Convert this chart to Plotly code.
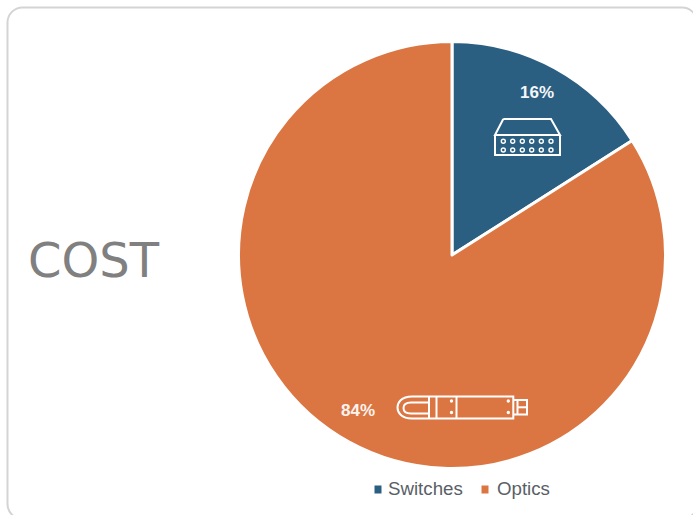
import plotly.graph_objects as go

W, H = 693, 515

categories = ["Switches", "Optics"]
values = [16, 84]
colors = ["#2b5f82", "#db7642"]
title_text = "COST"


def fx(x):
    return x / W


def fy(y):
    return 1 - y / H


def P(*pts):
    """Polyline through pixel points, as an SVG path in paper units."""
    return "M" + " L".join(f"{fx(x):.5f},{fy(y):.5f}" for x, y in pts)


def rounded_box(x0, y0, x1, y1, r):
    k = r * 0.45
    c = lambda x, y: f"{fx(x):.5f},{fy(y):.5f}"
    return (
        f"M{c(x0 + r, y0)} L{c(x1 - r, y0)} C{c(x1 - k, y0)} {c(x1, y0 + k)} {c(x1, y0 + r)} "
        f"L{c(x1, y1 - r)} C{c(x1, y1 - k)} {c(x1 - k, y1)} {c(x1 - r, y1)} "
        f"L{c(x0 + r, y1)} C{c(x0 + k, y1)} {c(x0, y1 - k)} {c(x0, y1 - r)} "
        f"L{c(x0, y0 + r)} C{c(x0, y0 + k)} {c(x0 + k, y0)} {c(x0 + r, y0)} Z"
    )


def stroke(path, width=2, color="white"):
    return dict(type="path", xref="paper", yref="paper", path=path,
                line=dict(color=color, width=width), layer="above")


def ring(cx, cy, r, width=1.4):
    return dict(type="circle", xref="paper", yref="paper",
                x0=fx(cx - r), x1=fx(cx + r), y0=fy(cy + r), y1=fy(cy - r),
                line=dict(color="white", width=width), layer="above")


def dot(cx, cy, r=1.7):
    return dict(type="circle", xref="paper", yref="paper",
                x0=fx(cx - r), x1=fx(cx + r), y0=fy(cy + r), y1=fy(cy - r),
                fillcolor="white", line=dict(width=0), layer="above")


def square(x0, y0, x1, y1, color):
    return dict(type="rect", xref="paper", yref="paper",
                x0=fx(x0), x1=fx(x1), y0=fy(y1), y1=fy(y0),
                fillcolor=color, line=dict(width=0), layer="above")


shapes = [
    # card outline
    dict(type="path", xref="paper", yref="paper",
         path=rounded_box(7.5, 7.5, 697, 519, 15),
         line=dict(color="#d4d4d4", width=2), layer="below"),
    # switch chassis
    stroke(P((503.3, 119), (551, 119), (560, 135), (495, 135), (503.3, 119))),
    stroke(P((495, 135), (495, 155), (560, 155), (560, 135))),
    # optical transceiver body
    stroke(f"M{fx(513.3):.5f},{fy(396.5):.5f} L{fx(412):.5f},{fy(396.5):.5f} "
           f"C{fx(401):.5f},{fy(396.5):.5f} {fx(397.5):.5f},{fy(403):.5f} {fx(397.5):.5f},{fy(407.5):.5f} "
           f"C{fx(397.5):.5f},{fy(412):.5f} {fx(401):.5f},{fy(418.5):.5f} {fx(412):.5f},{fy(418.5):.5f} "
           f"L{fx(513.3):.5f},{fy(418.5):.5f} Z"),
    stroke(f"M{fx(429):.5f},{fy(402.5):.5f} L{fx(411):.5f},{fy(402.5):.5f} "
           f"C{fx(405):.5f},{fy(402.5):.5f} {fx(403.5):.5f},{fy(405):.5f} {fx(403.5):.5f},{fy(408):.5f} "
           f"C{fx(403.5):.5f},{fy(411):.5f} {fx(405):.5f},{fy(413.5):.5f} {fx(411):.5f},{fy(413.5):.5f} "
           f"L{fx(429):.5f},{fy(413.5):.5f}"),
    stroke(P((429, 396.5), (429, 418.5))),
    stroke(P((436.5, 396.5), (436.5, 418.5))),
    stroke(P((456.5, 396.5), (456.5, 418.5))),
    dot(451.5, 401), dot(451.5, 412.5), dot(508.3, 401), dot(508.3, 412.5),
    stroke(P((513.3, 400), (527, 400), (527, 414.5), (513.3, 414.5))),
    stroke(P((517.5, 400), (517.5, 414.5))),
    stroke(P((517.5, 407.3), (527, 407.3))),
    # legend swatches
    square(374.5, 485.5, 381.5, 493.5, colors[0]),
    square(481.5, 485.5, 488.5, 493.5, colors[1]),
]

# switch front-panel ports
for py in (141.3, 150):
    for px in (503.3, 512.7, 522.3, 531.7, 541.3, 551):
        shapes.append(ring(px, py, 2))

pie = go.Pie(
    labels=categories,
    values=values,
    sort=False,
    direction="clockwise",
    rotation=0,
    marker=dict(colors=colors, line=dict(color="white", width=3)),
    textinfo="none",
    hoverinfo="label+percent",
    showlegend=False,
    domain=dict(x=[fx(238.5), fx(665.5)], y=[fy(468.5), fy(41.5)]),
)


def note(x, y, text, size, color, family="Liberation Sans", bold=False):
    return dict(xref="paper", yref="paper", x=fx(x), y=fy(y), text=f"<b>{text}</b>" if bold else text,
                showarrow=False, xanchor="center", yanchor="middle",
                font=dict(family=family, size=size, color=color))


annotations = [
    note(93.5, 260, title_text, 48, "#808080", family="DejaVu Sans"),
    note(537, 92, f"{values[0]}%", 17, "#f4f6f8", bold=True),
    note(357.5, 410, f"{values[1]}%", 17, "#fbf3ee", bold=True),
    note(425.5, 488.5, categories[0], 18.7, "#595f66"),
    note(523, 488.5, categories[1], 18.7, "#595f66"),
]

fig = go.Figure(pie)
fig.update_layout(
    width=W, height=H,
    margin=dict(l=0, r=0, t=0, b=0),
    paper_bgcolor="white",
    shapes=shapes,
    annotations=annotations,
)
fig.write_html("out.html", config=dict(displayModeBar=False))
